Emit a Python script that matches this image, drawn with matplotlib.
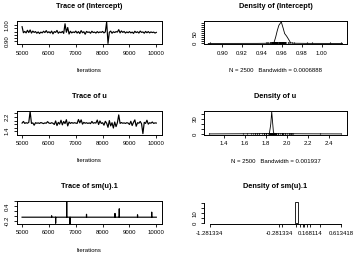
import numpy as np
import matplotlib
matplotlib.use("Agg")
import matplotlib.pyplot as plt

plt.rcParams['font.family'] = ['Liberation Sans', 'DejaVu Sans']

W, H = 354, 261

iter_first = 5000
iter_last = 10000
n_obs = 2500

intercept_trace = [
    0.990, 0.953, 0.961, 0.952, 0.968, 0.954, 0.970, 0.951, 0.963, 0.955,
    0.960, 0.950, 0.958, 0.948, 0.957, 0.952, 0.962, 0.954, 0.966, 0.953,
    0.959, 0.951, 0.963, 0.946, 0.960, 0.955, 0.967, 0.950, 0.958, 0.953,
    0.961, 0.949, 1.008, 0.956, 0.985, 0.945, 0.962, 0.952, 0.958, 0.954,
    0.963, 0.951, 0.960, 0.948, 0.966, 0.953, 0.959, 0.944, 0.961, 0.955,
    0.958, 0.950, 0.962, 0.954, 0.957, 0.951, 0.960, 0.953, 0.958, 0.955,
    0.961, 0.952, 0.958, 1.0195, 0.8875, 0.956, 0.963, 0.950, 0.959, 0.954,
    0.960, 0.957, 0.972, 0.952, 0.964, 0.955, 0.961, 0.951, 0.958, 0.953,
    0.960, 0.952, 0.957, 0.949, 0.962, 0.954, 0.959, 0.951, 0.963, 0.955,
    0.958, 0.950, 0.961, 0.953, 0.960, 0.952, 0.958, 0.954, 0.957, 0.951,
    0.955]

u_trace = [
    1.86, 1.95, 1.84, 1.88, 1.85, 1.90, 2.515, 1.84, 1.87, 1.74,
    1.88, 1.85, 1.87, 1.84, 1.89, 1.86, 1.83, 1.87, 1.85, 1.94,
    1.86, 1.84, 1.88, 1.85, 1.78, 1.98, 1.72, 1.90, 1.80, 2.02,
    1.76, 1.95, 1.83, 2.05, 1.70, 1.92, 1.84, 1.89, 1.85, 1.88,
    1.86, 1.84, 2.06, 1.87, 2.04, 1.80, 1.90, 1.85, 1.88, 1.84,
    1.87, 1.83, 1.95, 1.85, 1.88, 1.86, 2.03, 1.78, 1.98, 1.84,
    1.88, 1.74, 1.96, 1.85, 1.62, 2.00, 1.70, 1.88, 1.58, 1.92,
    1.66, 1.88, 2.32, 1.84, 1.89, 1.85, 1.87, 1.84, 1.88, 1.86,
    1.78, 1.96, 1.72, 1.90, 2.04, 1.68, 1.88, 1.85, 1.95, 1.82,
    1.265, 1.90, 1.84, 2.02, 1.80, 1.88, 1.85, 1.92, 1.84, 1.87,
    1.86]

# sm(u).1 sits on one value; only the draws that leave it are listed
smu_iters = [5000, 6098, 6100, 6102, 6248, 6250, 6252, 6660, 6662, 6664,
             6784, 6786, 6788, 7398, 7400, 7402, 8458, 8460, 8462, 8618, 8620, 8622,
             9298, 9300, 9302, 9826, 9828, 9830, 10000]
smu_values = [-0.037, -0.037, 0.02, -0.037, -0.037, -0.281334, -0.037, -0.037, 0.613418, -0.037,
              -0.037, -1.281334, -0.037, -0.037, 0.081, -0.037, -0.037, 0.115, -0.037,
              -0.037, 0.304, -0.037, -0.037, 0.06, -0.037, -0.037, 0.168114, -0.037, -0.037]

intercept_dens_x = [0.886, 0.935, 0.948, 0.952, 0.9537, 0.9554, 0.957, 0.9594, 0.9614,
                    0.9628, 0.9648, 0.9668, 0.9688, 0.972, 0.985, 1.021]
intercept_dens_y = [0, 0.3, 1, 3, 30, 64, 90, 107, 74, 49, 36, 20, 3, 1, 0.3, 0]
intercept_bw = "0.0006888"

u_dens_x = [1.265, 1.60, 1.80, 1.835, 1.848, 1.857, 1.866, 1.873, 1.879, 1.90, 2.20, 2.515]
u_dens_y = [0, 0.3, 0.6, 1, 20, 45, 22, 4, 1, 0.5, 0.2, 0]
u_bw = "0.001937"

smu_bar = (-0.05, -0.005)
smu_bar_height = 21.8
smu_unique = [-1.281334, -0.281334, -0.237, -0.037, 0.02, 0.06, 0.081, 0.115,
              0.168114, 0.304, 0.613418]
smu_shown = ["-1.281334", "-0.281334", "0.168114", "0.613418"]


def box(left, top, right, bottom):
    return [left / W, 1 - bottom / H, (right - left) / W, (bottom - top) / H]


def style(ax):
    for s in ax.spines.values():
        s.set_linewidth(0.7)
    ax.tick_params(length=2.2, width=0.6, labelsize=4.3, pad=2.3)
    ax.tick_params(axis='y', pad=2.8)


def ylabels(ax, ticks, shown):
    ax.set_yticks(ticks)
    ax.set_yticklabels(shown, rotation=90, va='center')


def header(ax, title, xlabel):
    b = ax.get_position()
    cx = b.x0 + b.width / 2
    fig.text(cx, b.y1 + 14.3 / H, title, ha='center', va='center',
             fontsize=5.3, fontweight='bold')
    if xlabel:
        fig.text(cx, b.y0 - 26.5 / H, xlabel, ha='center', va='center', fontsize=4.3)


def trace(rect, it, values, ylim, yticks, yshown, title):
    ax = fig.add_axes(box(*rect))
    ax.plot(it, values, color='black', lw=0.85)
    ax.set_xlim(4800, 10200)
    ax.set_ylim(*ylim)
    ax.set_xticks([5000, 6000, 7000, 8000, 9000, 10000])
    ylabels(ax, yticks, yshown)
    style(ax)
    header(ax, title, "Iterations")
    return ax


def density(rect, xs, ys, obs, rug, xlim, xticks, yticks, yshown, bw, title):
    ax = fig.add_axes(box(*rect))
    ax.plot(xs, ys, color='black', lw=0.6)
    top = max(ys)
    ax.vlines(obs, 0, top * rug, color='black', lw=0.8)
    ax.set_xlim(*xlim)
    ax.set_ylim(-0.04 * top, 1.04 * top)
    ax.set_xticks(xticks)
    ax.set_xticklabels(["%.2f" % t if xticks[1] - xticks[0] < 0.1 else "%.1f" % t for t in xticks])
    ylabels(ax, yticks, yshown)
    style(ax)
    header(ax, title, "N = %d   Bandwidth = %s" % (n_obs, bw))
    return ax


fig = plt.figure(figsize=(W / 100, H / 100), dpi=100)

grid = np.linspace(iter_first, iter_last, len(intercept_trace))

trace((16.7, 21, 161.7, 44.3), grid, intercept_trace, (0.882, 1.025),
      [0.90, 0.92, 0.94, 0.96, 0.98, 1.00], ["0.90", "", "", "", "", "1.00"],
      "Trace of (Intercept)")
density((204.3, 21, 346.5, 44.3), intercept_dens_x, intercept_dens_y, intercept_trace, 1 / 14,
        (0.882, 1.025), [0.90, 0.92, 0.94, 0.96, 0.98, 1.00],
        list(range(0, 101, 10)), ["0", "", "", "", "", "50", "", "", "", "", ""],
        intercept_bw, "Density of (Intercept)")

trace((16.7, 110.5, 161.7, 134.5), grid, u_trace, (1.216, 2.568),
      [1.4, 1.6, 1.8, 2.0, 2.2, 2.4], ["1.4", "", "", "", "2.2", ""],
      "Trace of u")
density((204.3, 110.8, 346.5, 134.8), u_dens_x, u_dens_y, u_trace, 1 / 45,
        (1.216, 2.568), [1.4, 1.6, 1.8, 2.0, 2.2, 2.4],
        [0, 10, 20, 30, 40], ["0", "", "", "30", ""],
        u_bw, "Density of u")

trace((16.7, 200.7, 161.7, 224.2), smu_iters, smu_values, (-0.32, 0.63),
      [-0.2, 0.0, 0.2, 0.4, 0.6], ["-0.2", "", "", "0.4", ""],
      "Trace of sm(u).1")

ax = fig.add_axes(box(204.3, 200.7, 346.5, 224.3))
ax.bar(smu_bar[0], smu_bar_height, width=smu_bar[1] - smu_bar[0], align='edge',
       facecolor='white', edgecolor='black', lw=0.6)
ax.set_xlim(-1.357, 0.689)
ax.set_ylim(-0.04 * smu_bar_height, 1.04 * smu_bar_height)
ax.set_xticks(smu_unique)
ax.set_xticklabels([("%.6f" % v).rstrip('0') if ("%.6f" % v).rstrip('0') in smu_shown else ""
                    for v in smu_unique])
ylabels(ax, [0, 5, 10, 15, 20], ["0", "", "10", "", ""])
ax.spines['top'].set_visible(False)
ax.spines['right'].set_visible(False)
ax.spines['left'].set_bounds(0, 20)
ax.spines['bottom'].set_bounds(smu_unique[0], smu_unique[-1])
style(ax)
header(ax, "Density of sm(u).1", None)

fig.savefig("out.png", dpi=100)
